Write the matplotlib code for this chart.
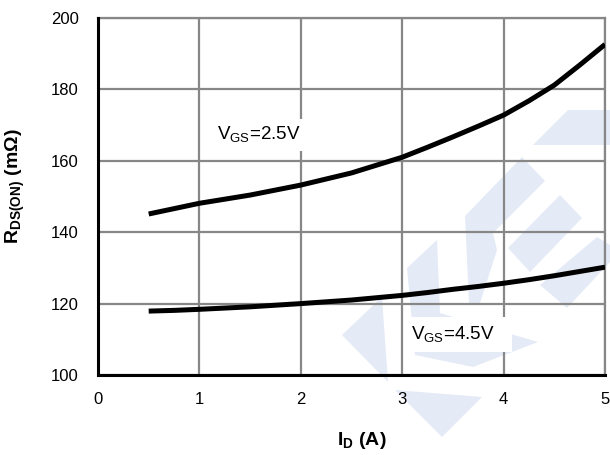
import numpy as np
import matplotlib.pyplot as plt
from matplotlib.patches import Polygon

plt.rcParams['font.family'] = ['Liberation Sans', 'DejaVu Sans']
plt.rcParams['mathtext.fontset'] = 'custom'
plt.rcParams['mathtext.rm'] = 'Liberation Sans'
plt.rcParams['mathtext.bf'] = 'Liberation Sans:bold'

# drain current (A)
i_d = [0.5, 0.75, 1.0, 1.5, 2.0, 2.5, 3.0, 3.25, 3.5, 3.75, 4.0, 4.25, 4.5, 4.75, 5.0]
# R_DS(on) in mOhm
r_vgs25 = [145.1, 146.6, 148.1, 150.4, 153.2, 156.6, 161.0, 163.8, 166.7, 169.7,
           172.8, 176.8, 181.2, 186.8, 192.6]
r_vgs45 = [117.9, 118.1, 118.4, 119.1, 120.0, 121.0, 122.3, 123.1, 124.0, 124.8,
           125.7, 126.7, 127.8, 129.0, 130.2]

xticks = [0, 1, 2, 3, 4, 5]
yticks = [100, 120, 140, 160, 180, 200]

fig = plt.figure(figsize=(6.1, 4.55), dpi=100)
ax = fig.add_axes([98 / 610, 1 - 375 / 455, 507 / 610, 357 / 455])

# faint logo watermark behind the plot (pixel coords)
logo = [
    [(533, 145), (568, 110), (610, 110), (610, 145)],
    [(522, 157), (545, 181), (493, 233), (465, 216)],
    [(465, 216), (493, 233), (497, 250), (480, 303), (469, 303)],
    [(560, 195), (582, 218), (530, 272), (508, 248)],
    [(597, 237), (610, 245), (610, 262), (567, 308), (540, 285)],
    [(342, 335), (382, 297), (388, 382)],
    [(407, 268), (437, 240), (440, 313), (538, 342), (473, 367), (415, 355)],
    [(395, 390), (482, 397), (442, 437)],
]
for pts in logo:
    xy = [(x / 610, 1 - y / 455) for x, y in pts]
    ax.add_patch(Polygon(xy, closed=True, transform=fig.transFigure,
                         facecolor='#e4eaf6', edgecolor='none', zorder=0,
                         clip_on=False))
ax.set_facecolor('none')

for r in (r_vgs25, r_vgs45):
    ax.plot(i_d, r, color='black', lw=3.6, zorder=3,
            solid_capstyle='butt', solid_joinstyle='round')

ax.set_xlim(0, 5)
ax.set_ylim(100, 200)
ax.set_xticks(xticks)
ax.set_yticks(yticks)
ax.grid(True, color='#878787', lw=1.6, zorder=1)
ax.set_axisbelow(True)
ax.tick_params(length=0, labelsize=12, pad=12)
ax.tick_params(axis='y', pad=14)

for s in ['top', 'right']:
    ax.spines[s].set_color('#878787')
    ax.spines[s].set_linewidth(1.6)
for s in ['left', 'bottom']:
    ax.spines[s].set_color('black')
    ax.spines[s].set_linewidth(2.2)
    ax.spines[s].set_zorder(4)

ax.text(1.17, 165.8, r'V$_{\mathrm{GS}}$=2.5V', fontsize=13.5, va='baseline',
        zorder=2, bbox=dict(facecolor='white', edgecolor='none', pad=4))
ax.text(3.09, 110.0, r'V$_{\mathrm{GS}}$=4.5V   ', fontsize=13.5, va='baseline',
        zorder=2, bbox=dict(facecolor='white', edgecolor='none', pad=5))

ax.set_xlabel(r'I$_{\mathbf{D}}$ (A)', fontsize=14, fontweight='bold')
ax.set_ylabel(r'R$_{\mathbf{DS(ON)}}$ (m$\mathbf{\Omega}$)', fontsize=14,
              fontweight='bold')
ax.xaxis.set_label_coords(0.52, -0.155)
ax.yaxis.set_label_coords(-0.14, 0.53)

fig.savefig('out.png', dpi=100)
